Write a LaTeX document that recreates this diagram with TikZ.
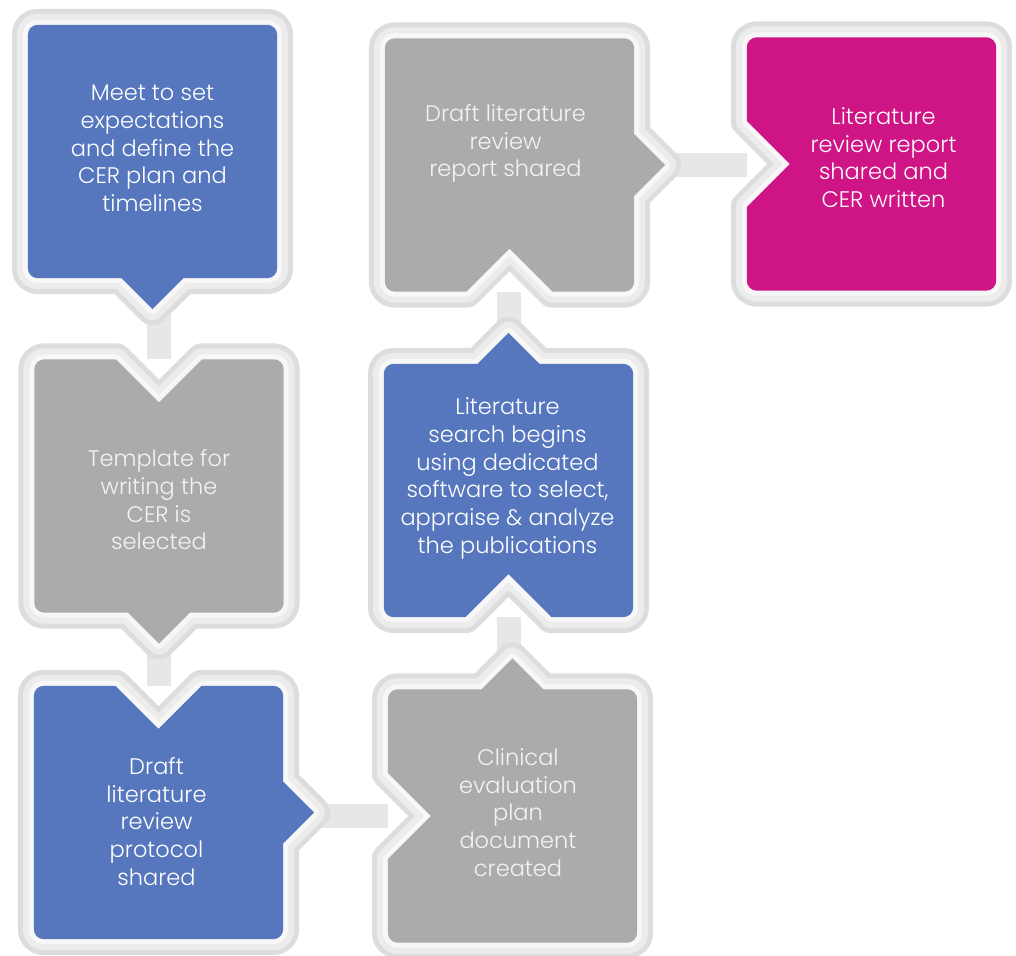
\documentclass[tikz,border=0pt]{standalone}
\usepackage{fontspec}
\setmainfont{Poppins}[UprightFont={* Light}]
\usetikzlibrary{calc}
\definecolor{stepblue}{RGB}{86,119,189}
\definecolor{stepgray}{RGB}{171,171,171}
\definecolor{steppink}{RGB}{207,20,134}
\definecolor{linkgray}{RGB}{230,231,232}
\definecolor{rimdark}{RGB}{221,221,221}
\definecolor{rimmid}{RGB}{236,236,236}
\definecolor{rimlight}{RGB}{247,247,247}
\definecolor{softwhite}{RGB}{243,243,243}

% outline of a step: node, then top, right, bottom, left (+ arrow out, - notch in)
\newcommand{\stepoutline}[5]{($(#1.north west)+(10,0)$)
  -- ($(#1.north)+({-abs(#2)},0)$) -- ($(#1.north)+(0,#2)$) -- ($(#1.north)+({abs(#2)},0)$)
  -- ($(#1.north east)+(-10,0)$) arc[start angle=90,end angle=0,radius=10]
  -- ($(#1.east)+(0,{abs(#3)})$) -- ($(#1.east)+(#3,0)$) -- ($(#1.east)+(0,{-abs(#3)})$)
  -- ($(#1.south east)+(0,10)$) arc[start angle=0,end angle=-90,radius=10]
  -- ($(#1.south)+({abs(#4)},0)$) -- ($(#1.south)+(0,{-1*(#4)})$) -- ($(#1.south)+({-abs(#4)},0)$)
  -- ($(#1.south west)+(10,0)$) arc[start angle=-90,end angle=-180,radius=10]
  -- ($(#1.west)+(0,{-abs(#5)})$) -- ($(#1.west)+({-1*(#5)},0)$) -- ($(#1.west)+(0,{abs(#5)})$)
  -- ($(#1.north west)+(0,-10)$) arc[start angle=180,end angle=90,radius=10] -- cycle}
\newcommand{\drawstep}[6]{%
  \draw[rimdark, line width=32pt, line join=round] \stepoutline{#1}{#3}{#4}{#5}{#6};
  \draw[rimmid, line width=22pt, line join=round] \stepoutline{#1}{#3}{#4}{#5}{#6};
  \draw[rimlight, line width=10pt, line join=round] \stepoutline{#1}{#3}{#4}{#5}{#6};
  \fill[#2] \stepoutline{#1}{#3}{#4}{#5}{#6};}

\begin{document}
\begin{tikzpicture}[x=1pt, y=1pt,
  stepbox/.style={minimum width=249pt, minimum height=253pt, inner sep=0pt},
  link/.style={linkgray, line width=24pt},
  steptext/.style={align=center, text=white, font=\fontsize{22.5}{27.7}\selectfont},
  greytext/.style={steptext, text=softwhite}]
  \useasboundingbox (0,0) rectangle (1016,955);

  \node[stepbox] (meet) at (152.5,803.5) {};
  \node[stepbox] (template) at (159,469) {};
  \node[stepbox] (protocol) at (158.5,142.5) {};
  \node[stepbox] (plan) at (512.5,139) {};
  \node[stepbox] (search) at (508.5,464.5) {};
  \node[stepbox] (report) at (509.5,790) {};
  \node[stepbox] (written) at (871.5,791) {};

  \draw[link] (template.north) -- (template.north |- meet.south);
  \draw[link] (template.south) -- (template.south |- protocol.north);
  \draw[link] (plan.west) -- (plan.west -| protocol.east);
  \draw[link] (search.south) -- (search.south |- plan.north);
  \draw[link] (search.north) -- (search.north |- report.south);
  \draw[link] (report.east) -- (report.east -| written.west);

  \drawstep{meet}{stepblue}{0}{0}{31}{0}
  \drawstep{template}{stepgray}{-43}{0}{31}{0}
  \drawstep{protocol}{stepblue}{-43}{31}{0}{0}
  \drawstep{plan}{stepgray}{31}{0}{0}{-43}
  \drawstep{search}{stepblue}{31}{0}{-43}{0}
  \drawstep{report}{stepgray}{0}{31}{-43}{0}
  \drawstep{written}{steppink}{0}{0}{0}{-43}

  \node[steptext] (meet-text) at (152.5,806.5) {Meet to set\\expectations\\and define the\\CER plan and\\timelines};
  \node[greytext] (template-text) at (159,455) {Template for\\writing the\\CER is\\selected};
  \node[steptext] (protocol-text) at (156.5,133.5) {Draft\\literature\\review\\protocol\\shared};
  \node[greytext] (plan-text) at (518,142.5) {Clinical\\evaluation\\plan\\document\\created};
  \node[steptext] (search-text) at (507.5,476.5) {Literature\\search begins\\using dedicated\\software to select,\\appraise \& analyze\\the publications};
  \node[greytext] (report-text) at (505.5,811.5) {Draft literature\\review\\report shared};
  \node[steptext] (written-text) at (883.5,797.5) {Literature\\review report\\shared and\\CER written};
\end{tikzpicture}
\end{document}
